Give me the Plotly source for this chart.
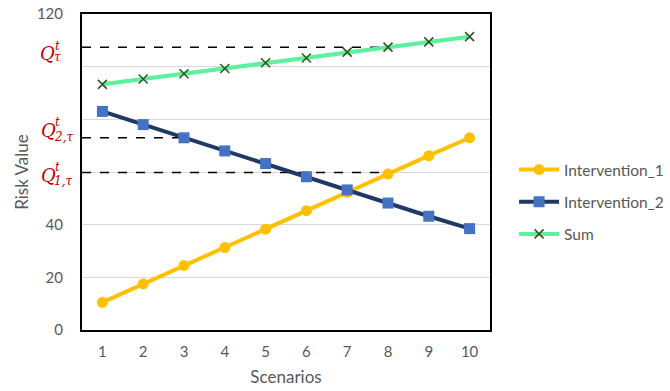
import plotly.graph_objects as go

scenarios = [1, 2, 3, 4, 5, 6, 7, 8, 9, 10]
intervention_1 = [10.5, 17.5, 24.5, 31.3, 38.3, 45.3, 52.3, 59.2, 66.2, 73]
intervention_2 = [83, 78, 73, 68, 63.2, 58.2, 53.2, 48.2, 43.2, 38.5]
sum_values = [93.3, 95.3, 97.3, 99.3, 101.5, 103.3, 105.5, 107.4, 109.4, 111.4]

threshold_values = [107.4, 73, 59.8]
threshold_end = [8, 3, 8]
threshold_main = ["Q", "Q", "Q"]
threshold_sup = ["t", "t", "t"]
threshold_sub = ["τ", "2,τ", "1,τ"]

y_ticks = [0, 20, 40, 60, 80, 100, 120]
y_ticktext = ["0", "20", "40", "", "", "", "120"]

FONT = "Lato"
GRAY = "#595959"
RED = "#C00000"

fig = go.Figure()

# dashed threshold lines
for val, end in zip(threshold_values, threshold_end):
    fig.add_trace(go.Scatter(
        x=[0.5, end], y=[val, val], mode="lines",
        line=dict(color="black", width=1.6, dash="dash"),
        showlegend=False, hoverinfo="skip"))

fig.add_trace(go.Scatter(
    x=scenarios, y=intervention_1, mode="lines+markers", name="Intervention_1",
    line=dict(color="#FFC000", width=4),
    marker=dict(symbol="circle", size=11, color="#FFC000"),
    legendgroup="a"))
fig.add_trace(go.Scatter(
    x=scenarios, y=intervention_2, mode="lines+markers", name="Intervention_2",
    line=dict(color="#203864", width=4),
    marker=dict(symbol="square", size=11, color="#4472C4"),
    legendgroup="b"))
fig.add_trace(go.Scatter(
    x=scenarios, y=sum_values, mode="lines+markers", name="Sum",
    line=dict(color="#5DF09E", width=4),
    marker=dict(symbol="x-thin", size=9, color="#375623",
                line=dict(color="#375623", width=1.6)),
    legendgroup="c"))

# Q labels (offsets in pixels relative to the plot's left edge and the line)
q_offsets = [(-35, -6), (-34, 7), (-34, -3)]
sup_offsets = [(-25, 1), (-25, 16), (-25, 6)]
sub_offsets = [(-25, -10), (-19, 1), (-19, -8)]
for i, val in enumerate(threshold_values):
    qx, qy = q_offsets[i]
    fig.add_annotation(xref="paper", yref="y", x=0, y=val, xanchor="center",
                       yanchor="middle", xshift=qx, yshift=qy, showarrow=False,
                       text="<i>" + threshold_main[i] + "</i>",
                       font=dict(family="DejaVu Serif", size=18, color=RED))
    sx, sy = sup_offsets[i]
    fig.add_annotation(xref="paper", yref="y", x=0, y=val, xanchor="center",
                       yanchor="middle", xshift=sx, yshift=sy, showarrow=False,
                       text="<i>" + threshold_sup[i] + "</i>",
                       font=dict(family="DejaVu Serif", size=12, color=RED))
    bx, by = sub_offsets[i]
    fig.add_annotation(xref="paper", yref="y", x=0, y=val, xanchor="center",
                       yanchor="middle", xshift=bx, yshift=by, showarrow=False,
                       text="<i>" + threshold_sub[i] + "</i>",
                       font=dict(family="DejaVu Serif", size=12, color=RED))

fig.update_layout(
    width=670, height=391,
    margin=dict(l=82, r=180, t=14, b=61, autoexpand=False),
    paper_bgcolor="white", plot_bgcolor="white",
    font=dict(family=FONT, size=15, color=GRAY),
    legend=dict(x=1.059, xanchor="left", y=0.56, yanchor="top",
                font=dict(family=FONT, size=15.5, color=GRAY),
                traceorder="grouped", tracegroupgap=9, itemwidth=40,
                bgcolor="rgba(0,0,0,0)"),
    xaxis=dict(range=[0.5, 10.5], tickvals=scenarios, showgrid=False,
               showline=True, mirror=True, linecolor="black", linewidth=2,
               ticks="", ticklabelstandoff=7,
               title=dict(text="Scenarios", standoff=12,
                          font=dict(family=FONT, size=17, color=GRAY)),
               zeroline=False),
    yaxis=dict(range=[0, 120], tickvals=y_ticks, ticktext=y_ticktext,
               showgrid=True, gridcolor="#D9D9D9", gridwidth=1,
               showline=True, mirror=True, linecolor="black", linewidth=2,
               ticks="", ticklabelstandoff=14, zeroline=False,
               title=dict(text="Risk Value", standoff=4,
                          font=dict(family=FONT, size=17, color=GRAY))),
)

# remove the default page margin so the 670x391 figure fills the window
fig.write_html("out.html",
               config={"displayModeBar": False},
               post_script="document.body.style.margin='0';document.body.style.overflow='hidden';")
